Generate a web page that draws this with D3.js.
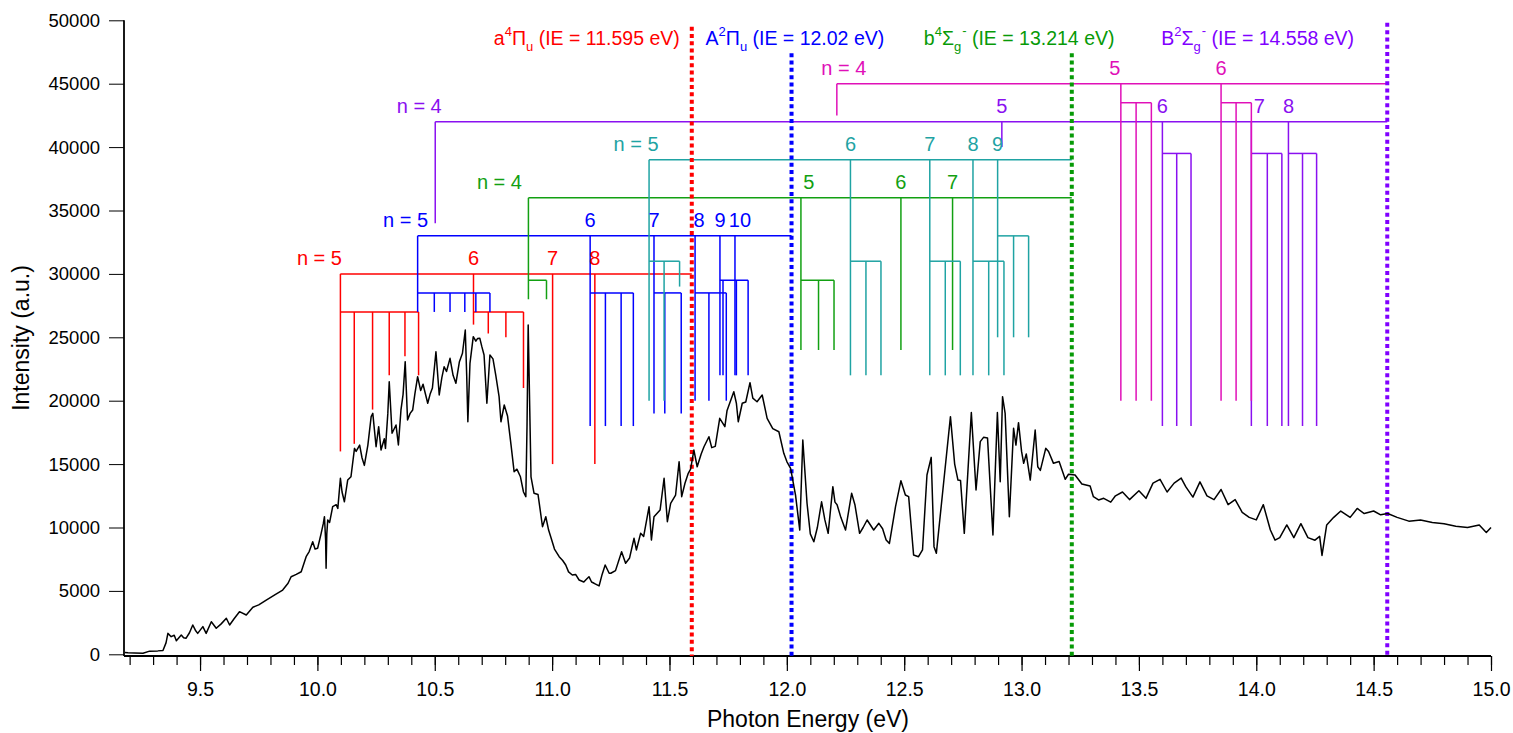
<!DOCTYPE html>
<html>
<head>
<meta charset="utf-8">
<script src="https://cdn.jsdelivr.net/npm/d3@7"></script>
<style>
  body { margin: 0; background: #fff; }
  svg { font-family: "Liberation Sans", Arial, sans-serif; }
</style>
</head>
<body>
<svg id="chart" width="1513" height="733"></svg>
<script>
// photoionisation spectrum
let energy = [
  9.18, 9.193, 9.22, 9.257, 9.285, 9.32, 9.342, 9.355, 9.363, 9.377, 9.39, 9.399, 9.42, 9.43, 9.44, 9.455,
  9.469, 9.48, 9.49, 9.512, 9.526, 9.548, 9.569, 9.59, 9.612, 9.626, 9.645, 9.668, 9.697, 9.725, 9.75, 9.782,
  9.82, 9.852, 9.875, 9.888, 9.91, 9.931, 9.952, 9.965, 9.98, 9.99, 10.001, 10.016, 10.025, 10.03, 10.035, 10.037,
  10.04, 10.044, 10.052, 10.065, 10.08, 10.087, 10.098, 10.105, 10.115, 10.129, 10.143, 10.158, 10.165, 10.18, 10.19, 10.2,
  10.215, 10.229, 10.236, 10.25, 10.261, 10.271, 10.285, 10.29, 10.3, 10.306, 10.318, 10.335, 10.345, 10.356, 10.365, 10.374,
  10.384, 10.395, 10.406, 10.415, 10.427, 10.44, 10.45, 10.47, 10.48, 10.49, 10.505, 10.519, 10.53, 10.54, 10.55, 10.565,
  10.578, 10.59, 10.605, 10.618, 10.63, 10.636, 10.641, 10.65, 10.664, 10.675, 10.682, 10.692, 10.7, 10.71, 10.722, 10.735,
  10.748, 10.76, 10.774, 10.782, 10.796, 10.81, 10.825, 10.838, 10.85, 10.865, 10.878, 10.888, 10.893, 10.898, 10.904, 10.91,
  10.923, 10.94, 10.959, 10.973, 10.985, 10.994, 11.01, 11.03, 11.045, 11.058, 11.07, 11.086, 11.1, 11.115, 11.135, 11.145,
  11.157, 11.168, 11.179, 11.2, 11.213, 11.226, 11.243, 11.25, 11.27, 11.296, 11.313, 11.33, 11.349, 11.359, 11.377, 11.39,
  11.413, 11.423, 11.434, 11.46, 11.477, 11.491, 11.505, 11.526, 11.541, 11.552, 11.566, 11.58, 11.59, 11.604, 11.618, 11.635,
  11.647, 11.668, 11.68, 11.695, 11.714, 11.736, 11.745, 11.774, 11.785, 11.793, 11.81, 11.825, 11.843, 11.855, 11.873, 11.895,
  11.916, 11.94, 11.966, 11.987, 12.0, 12.016, 12.037, 12.055, 12.068, 12.086, 12.1, 12.115, 12.13, 12.148, 12.162, 12.176,
  12.196, 12.205, 12.214, 12.23, 12.25, 12.276, 12.29, 12.31, 12.325, 12.342, 12.37, 12.392, 12.408, 12.423, 12.437, 12.463,
  12.486, 12.505, 12.519, 12.54, 12.561, 12.578, 12.597, 12.615, 12.627, 12.637, 12.665, 12.697, 12.715, 12.729, 12.74, 12.756,
  12.786, 12.806, 12.824, 12.838, 12.855, 12.878, 12.897, 12.909, 12.919, 12.93, 12.948, 12.966, 12.976, 12.987, 13.0, 13.009,
  13.02, 13.037, 13.058, 13.069, 13.08, 13.103, 13.115, 13.136, 13.16, 13.186, 13.2, 13.228, 13.257, 13.292, 13.306, 13.328,
  13.35, 13.38, 13.4, 13.43, 13.46, 13.5, 13.53, 13.56, 13.59, 13.62, 13.65, 13.68, 13.7, 13.73, 13.76, 13.79,
  13.82, 13.85, 13.88, 13.91, 13.94, 13.97, 14.0, 14.03, 14.06, 14.08, 14.1, 14.13, 14.16, 14.19, 14.22, 14.25,
  14.27, 14.28, 14.3, 14.33, 14.36, 14.4, 14.43, 14.46, 14.5, 14.53, 14.56, 14.6, 14.65, 14.7, 14.75, 14.8,
  14.85, 14.9, 14.95, 14.98, 15.0
];
let intensity = [
  150, 120, 100, 80, 250, 270, 300, 900, 1650, 1390, 1500, 1070, 1520, 1300, 1260, 1700,
  2310, 1900, 1650, 2180, 1650, 2570, 2050, 2400, 2840, 2310, 2800, 3360, 3100, 3710, 3900, 4280,
  4700, 5070, 5600, 6120, 6300, 6510, 7700, 8100, 8880, 8300, 8360, 9540, 10300, 10850, 9000, 6780,
  9500, 10590, 10400, 11640, 11800, 11510, 13880, 12800, 12030, 13740, 14000, 16240, 16000, 16500, 15500, 14900,
  16500, 18740, 19000, 16370, 17950, 16110, 17000, 16240, 19000, 21500, 17430, 18080, 16510, 19270, 20500, 23080,
  18480, 19000, 19270, 20500, 21890, 20800, 21300, 19800, 20500, 21000, 23860, 20450, 21800, 22680, 22300, 23340,
  22000, 21370, 23080, 23740, 25570, 22000, 18340, 22950, 25050, 24700, 24900, 24920, 24300, 23600, 19800, 23600,
  23300, 22000, 20320, 18340, 19660, 18800, 16500, 14400, 14600, 14000, 12800, 12430, 18000, 25970, 20000, 14000,
  12700, 12600, 10060, 10850, 9800, 9270, 8300, 7700, 7400, 7040, 6500, 6250, 6300, 5860, 5700, 5900,
  6120, 5700, 5600, 5390, 6300, 7040, 6390, 6390, 6600, 8090, 7180, 7600, 9150, 8230, 9540, 9300,
  11640, 9010, 10850, 11380, 13880, 10460, 11910, 12560, 15190, 12430, 13490, 14270, 14600, 16110, 14790, 15800,
  16370, 17160, 16300, 16400, 18610, 17950, 19200, 20710, 19800, 18340, 19800, 19900, 21420, 20200, 19920, 20450,
  18610, 17800, 17550, 15850, 15200, 14670, 12560, 9800, 16900, 11910, 9500, 8880, 10000, 12030, 10600, 9540,
  13220, 12000, 11800, 10800, 9800, 12700, 11800, 9540, 10000, 10590, 9800, 10330, 9900, 9010, 8750, 11640,
  13690, 12560, 12430, 7830, 7700, 8230, 14140, 15530, 8490, 7970, 13000, 18740, 15000, 13740, 13700, 9540,
  19060, 12960, 16770, 17110, 17050, 9410, 19060, 13610, 20320, 19000, 10850, 17820, 16500, 18270, 16000, 15060,
  15800, 13740, 17690, 14790, 14500, 16240, 16000, 15060, 15200, 13800, 14200, 14140, 13430, 13270, 12430, 12170,
  12300, 12000, 12500, 12800, 12200, 12900, 12300, 13500, 13800, 12800, 13500, 13900, 13200, 12400, 13600, 12500,
  12200, 13000, 11800, 12200, 11200, 10800, 10600, 11800, 9800, 9000, 9200, 10200, 9200, 10300, 9200, 9000,
  9300, 7800, 10200, 10800, 11300, 10800, 11500, 11100, 11300, 11000, 11100, 10800, 10500, 10600, 10400, 10300,
  10100, 10000, 10200, 9600, 10000
];

// ionic states and their ionisation energies (eV)
let ieTerm = ["a", "A", "b", "B"];
let ieMult = ["4", "2", "4", "2"];
let ieSymbol = ["\u03A0", "\u03A0", "\u03A3", "\u03A3"];
let ieSub = ["u", "u", "g", "g"];
let ieSup = ["", "", "-", "-"];
let ieValue = [11.595, 12.02, 13.214, 14.558];
let ieTop = [49500, 47400, 47400, 49800];

// Rydberg series: n, energy of the origin, bottom of its line,
// then the vibrational comb hanging from it
let redLevels = [
  { n: 5, e: 10.098, end: 16000, subY: 27000, sub: [10.157, 10.235, 10.306, 10.373, 10.431], subEnd: [16600, 19300, 22000, 23500, 22000] },
  { n: 6, e: 10.665, end: 26000, subY: 27000, sub: [10.728, 10.803, 10.878], subEnd: [25300, 25000, 21000] },
  { n: 7, e: 11.002, end: 15000 },
  { n: 8, e: 11.182, end: 15000 },
];
let blueLevels = [
  { n: 5, e: 10.427, end: 27000, subY: 28500, sub: [10.498, 10.565, 10.628, 10.675, 10.735], subEnd: [27000, 27000, 27000, 27000, 27000] },
  { n: 6, e: 11.162, end: 18000, subY: 28500, sub: [11.227, 11.294, 11.346], subEnd: [18000, 18000, 18000] },
  { n: 7, e: 11.434, end: 19000, subY: 28500, sub: [11.48, 11.55], subEnd: [19000, 19000] },
  { n: 8, e: 11.609, end: 20000, subY: 28500, sub: [11.668, 11.742], subEnd: [20000, 20000] },
  { n: 9, e: 11.715, end: 22000, subY: 29500, sub: [11.728, 11.785, 11.835], subEnd: [22000, 22000, 22000] },
  { n: 10, e: 11.779, end: 22000 },
];
let greenLevels = [
  { n: 4, e: 10.899, end: 28000, subY: 29500, sub: [10.976], subEnd: [28000] },
  { n: 5, e: 12.06, end: 24000, subY: 29500, sub: [12.135, 12.201], subEnd: [24000, 24000] },
  { n: 6, e: 12.486, end: 24000 },
  { n: 7, e: 12.706, end: 24000 },
];
let tealLevels = [
  { n: 5, e: 11.413, end: 20000, subY: 31000, sub: [11.477, 11.543], subEnd: [20000, 29000] },
  { n: 6, e: 12.271, end: 22000, subY: 31000, sub: [12.337, 12.401], subEnd: [22000, 22000] },
  { n: 7, e: 12.609, end: 22000, subY: 31000, sub: [12.675, 12.739], subEnd: [22000, 22000] },
  { n: 8, e: 12.793, end: 22000, subY: 31000, sub: [12.86, 12.925], subEnd: [22000, 22000] },
  { n: 9, e: 12.898, end: 25000, subY: 33000, sub: [12.966, 13.03], subEnd: [25000, 25000] },
];
let violetLevels = [
  { n: 4, e: 10.502, end: 34000 },
  { n: 5, e: 12.916, end: 40000 },
  { n: 6, e: 13.6, end: 18000, subY: 39500, sub: [13.661, 13.722], subEnd: [18000, 18000] },
  { n: 7, e: 13.979, end: 18000, subY: 39500, sub: [14.047, 14.109], subEnd: [18000, 18000] },
  { n: 8, e: 14.137, end: 18000, subY: 39500, sub: [14.197, 14.257], subEnd: [18000, 18000] },
];
let magentaLevels = [
  { n: 4, e: 12.213, end: 42500 },
  { n: 5, e: 13.423, end: 20000, subY: 43500, sub: [13.488, 13.553], subEnd: [20000, 20000] },
  { n: 6, e: 13.85, end: 20000, subY: 43500, sub: [13.914, 13.979], subEnd: [20000, 20000] },
];

// height of each series' main bar and the limit it converges to
let seriesLevels = [redLevels, blueLevels, greenLevels, tealLevels, violetLevels, magentaLevels];
let seriesBar = [30000, 33000, 36000, 39000, 42000, 45000];
let seriesLimit = [11.595, 12.02, 13.214, 13.214, 14.558, 14.558];

let xTicks = [9.5, 10.0, 10.5, 11.0, 11.5, 12.0, 12.5, 13.0, 13.5, 14.0, 14.5, 15.0];
let yTicks = [0, 5000, 10000, 15000, 20000, 25000, 30000, 35000, 40000, 45000, 50000];

// styling
let ieColor = ["#ff0000", "#0000ff", "#079a07", "#8000ff"];
let seriesColor = ["#ff0000", "#0000ff", "#12a012", "#1fa3a3", "#8a10f0", "#e010b8"];
let nLabelShift = [-21, -12, -29, -13, -16, 7];
let numShift = { "1-8": 4, "1-10": 5, "2-5": 8, "4-7": 8, "5-5": -6 };
let ieLabelDx = [-12, -86, -148, -226];

let svg = d3.select("#chart");
let x = d3.scaleLinear().domain([9.176, 15.0]).range([124, 1491]);
let y = d3.scaleLinear().domain([0, 50000]).range([654.3, 20.3]);

// axes
let xAxis = svg.append("g").attr("transform", "translate(0,656)");
xAxis.call(d3.axisBottom(x).tickValues(d3.range(9.2, 15.001, 0.1)).tickSize(9).tickFormat(""));
xAxis.call((g) => g.select(".domain").remove());
let xMajor = svg.append("g").attr("transform", "translate(0,656)")
  .call(d3.axisBottom(x).tickValues(xTicks).tickSize(15).tickPadding(11).tickFormat(d3.format(".1f")));
xMajor.select(".domain").attr("d", `M124,0H1491`);
svg.selectAll("g .tick line").attr("stroke", "#000").attr("stroke-width", 1.2);
xMajor.selectAll("text").attr("font-size", 19.5).attr("font-family", "Liberation Sans, Arial");

let yAxis = svg.append("g").attr("transform", "translate(124,0)")
  .call(d3.axisLeft(y).tickValues(yTicks).tickSize(15).tickPadding(9).tickFormat(d3.format("d")));
yAxis.select(".domain").attr("d", `M0,${y(50000)}V656`);
yAxis.selectAll("text").attr("font-size", 18.5).attr("font-family", "Liberation Sans, Arial");
svg.selectAll(".domain").attr("stroke-width", 1.8);

svg.append("text").attr("x", 808).attr("y", 727).attr("text-anchor", "middle")
  .attr("font-size", 23).text("Photon Energy (eV)");
svg.append("text").attr("transform", "translate(29,338) rotate(-90)").attr("text-anchor", "middle")
  .attr("font-size", 23).text("Intensity (a.u.)");

// Rydberg combs
let combs = svg.append("g").attr("fill", "none");
seriesLevels.forEach((levels, s) => {
  let col = seriesColor[s];
  let g = combs.append("g").attr("stroke", col).attr("stroke-width", 1.5);
  let yb = y(seriesBar[s]);
  g.append("line").attr("x1", x(levels[0].e)).attr("x2", x(seriesLimit[s])).attr("y1", yb).attr("y2", yb);
  levels.forEach((lv, i) => {
    g.append("line").attr("x1", x(lv.e)).attr("x2", x(lv.e)).attr("y1", yb).attr("y2", y(lv.end));
    if (lv.sub) {
      let ys = y(lv.subY);
      g.append("line").attr("x1", x(lv.e)).attr("x2", x(lv.sub[lv.sub.length - 1])).attr("y1", ys).attr("y2", ys);
      g.selectAll(null).data(lv.sub).enter().append("line")
        .attr("x1", (d) => x(d)).attr("x2", (d) => x(d))
        .attr("y1", ys).attr("y2", (d, k) => y(lv.subEnd[k]));
    }
    let t = svg.append("text").attr("fill", col).attr("font-size", 20).attr("y", yb - 9);
    if (i == 0) {
      t.attr("x", x(lv.e) + nLabelShift[s]).attr("text-anchor", "middle").text("n = " + lv.n);
    } else {
      t.attr("x", x(lv.e) + (numShift[s + "-" + lv.n] || 0)).attr("text-anchor", "middle").text(lv.n);
    }
  });
});

// ionisation limits
ieValue.forEach((v, i) => {
  svg.append("line").attr("x1", x(v)).attr("x2", x(v)).attr("y1", y(ieTop[i])).attr("y2", 656)
    .attr("stroke", ieColor[i]).attr("stroke-width", 4).attr("stroke-dasharray", "4 3.3");
  let t = svg.append("text").attr("fill", ieColor[i]).attr("font-size", 19.5)
    .attr("x", x(v) + ieLabelDx[i]).attr("y", 45).attr("text-anchor", i == 0 ? "end" : "start");
  t.append("tspan").text(ieTerm[i]);
  t.append("tspan").attr("font-size", 13).attr("dy", -9).text(ieMult[i]);
  t.append("tspan").attr("dy", 9).text(ieSymbol[i]);
  t.append("tspan").attr("font-size", 13).attr("dy", 6).text(ieSub[i]);
  if (ieSup[i]) {
    t.append("tspan").attr("font-size", 13).attr("dy", -16).attr("dx", 1).text(ieSup[i]);
    t.append("tspan").attr("dy", 10).text(" (IE = " + v + " eV)");
  } else {
    t.append("tspan").attr("dy", -6).text(" (IE = " + v + " eV)");
  }
});

// spectrum
let pts = energy.map((e, i) => [e, intensity[i]]);
svg.append("path").datum(pts)
  .attr("fill", "none").attr("stroke", "#000").attr("stroke-width", 1.5).attr("stroke-linejoin", "round")
  .attr("d", d3.line().x((d) => x(d[0])).y((d) => y(d[1])));
</script>
</body>
</html>
